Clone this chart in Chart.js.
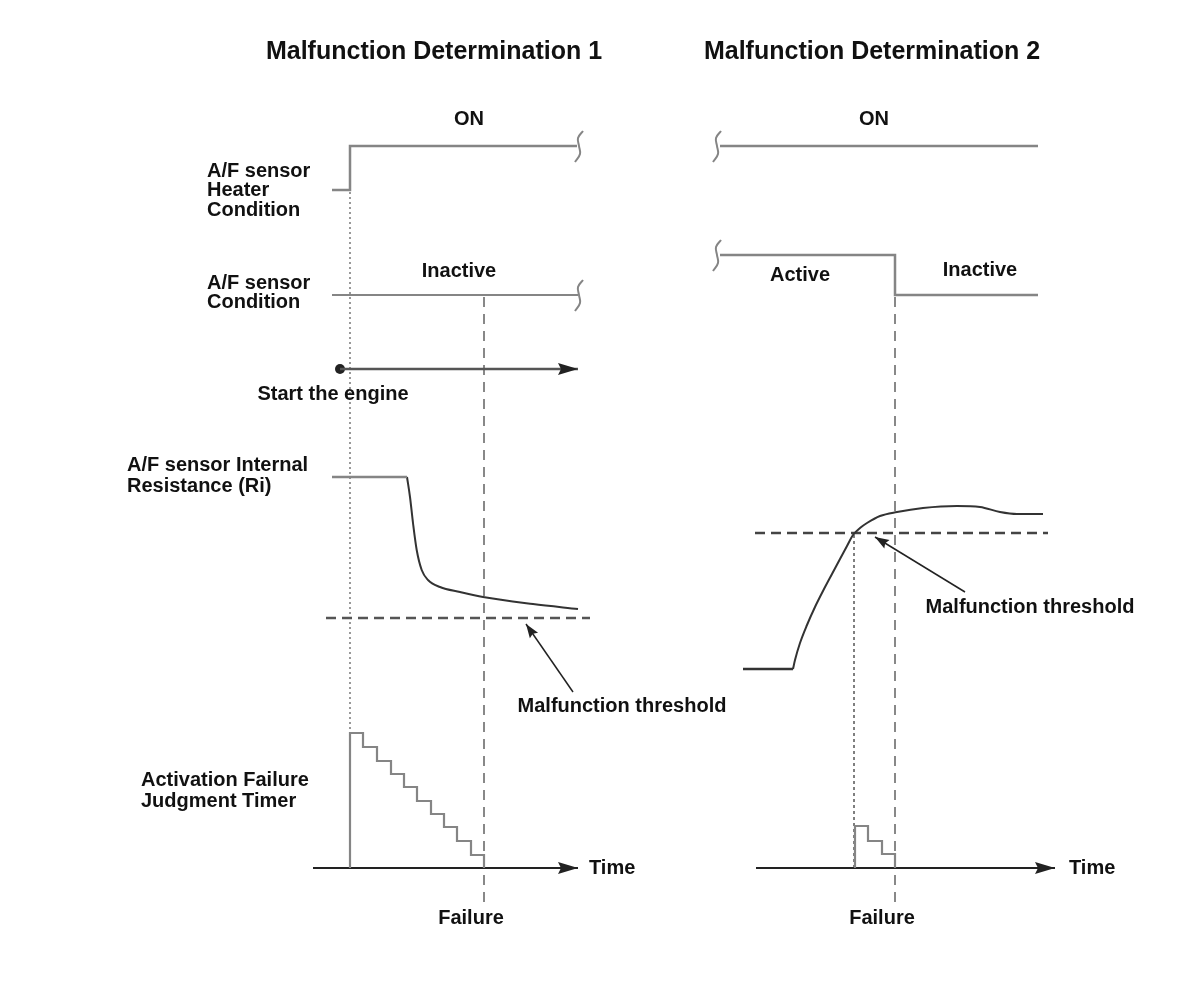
<!DOCTYPE html>
<html>
<head>
<meta charset="utf-8">
<script src="https://cdn.jsdelivr.net/npm/chart.js@4/dist/chart.umd.min.js"></script>
<style>
  html, body { margin: 0; padding: 0; background: #fff; }
  canvas { display: block; }
</style>
</head>
<body>
<canvas id="diagram" width="1200" height="1006"></canvas>
<script>
// diagram units (x = time, y = level, y grows downward)

// --- Malfunction Determination 1 ---
const heater1X = [332, 350, 350, 577];
const heater1Y = [190, 190, 146, 146];
const cond1X = [332, 578];
const cond1Y = [295, 295];
const engineX = [340, 578];
const engineY = [369, 369];
const riFlat1X = [332, 407];
const riFlat1Y = [477, 477];
const riDrop1X = [407, 410, 413, 416.7, 421.7, 428, 440, 460, 483, 533, 578];
const riDrop1Y = [477, 497, 523, 550, 570, 580, 587, 592, 597, 604, 609];
const thresh1X = [326, 590];
const thresh1Y = [618, 618];
const timer1X = [350, 350, 363, 363, 377, 377, 391, 391, 404, 404, 417, 417, 431, 431, 444, 444, 457, 457, 471, 471, 484, 484];
const timer1Y = [868, 733, 733, 747, 747, 761, 761, 774, 774, 787, 787, 801, 801, 814, 814, 827, 827, 841, 841, 855, 855, 868];
const time1X = [313, 578];
const time1Y = [868, 868];
const start1X = [350, 350];
const start1Y = [192, 733];
const fail1X = [484, 484];
const fail1Y = [297, 903];
const note1X = [573, 526];
const note1Y = [692, 624];

// --- Malfunction Determination 2 ---
const heater2X = [720, 1038];
const heater2Y = [146, 146];
const cond2X = [720, 895, 895, 1038];
const cond2Y = [255, 255, 295, 295];
const riFlat2X = [743, 793];
const riFlat2Y = [669, 669];
const riRise2X = [793, 795, 800, 807, 815, 823, 832, 840, 847, 853, 860, 867, 880, 897, 923, 957, 980, 1000, 1017, 1043];
const riRise2Y = [669, 660, 643, 625, 607, 591, 574, 559, 546, 535, 528, 523, 516, 512, 508, 506, 507, 512, 514, 514];
const thresh2X = [755, 1048];
const thresh2Y = [533, 533];
const timer2X = [855, 855, 868, 868, 882, 882, 895, 895];
const timer2Y = [868, 826, 826, 841, 841, 854, 854, 868];
const time2X = [756, 1055];
const time2Y = [868, 868];
const cross2X = [854, 854];
const cross2Y = [535, 868];
const fail2X = [895, 895];
const fail2Y = [297, 905];
const note2X = [965, 875];
const note2Y = [592, 537];

// break marks (squiggles)
const breakDX = [4, -1, 0, 1, -4];
const breakDY = [-15, -8, 0, 8, 16];

const pts = (xs, ys) => xs.map((x, i) => ({ x, y: ys[i] }));
const brk = (cx, cy) => pts(breakDX.map(d => cx + d), breakDY.map(d => cy + d));

const GRAY = '#858585';
const DARK = '#333333';
const AXIS = '#222222';

function line(data, color, width, extra) {
  return Object.assign({
    data, showLine: true, borderColor: color, borderWidth: width,
    pointRadius: 0, tension: 0, fill: false, clip: false
  }, extra || {});
}

const datasets = [
  line(pts(heater1X, heater1Y), GRAY, 2.5),
  line(pts(cond1X, cond1Y), GRAY, 2.2),
  line(brk(579, 146), GRAY, 2, { tension: 0.4 }),
  line(brk(579, 295), GRAY, 2, { tension: 0.4 }),
  line(pts(engineX, engineY), '#555', 2.5, { arrow: { len: 20, half: 6, color: '#222' } }),
  line(pts([engineX[0]], [engineY[0]]), '#222', 0, { showLine: false, pointRadius: 5, pointBackgroundColor: '#222', pointBorderWidth: 0 }),
  line(pts(riFlat1X, riFlat1Y), GRAY, 2.5),
  line(pts(riDrop1X, riDrop1Y), DARK, 2, { cubicInterpolationMode: 'monotone' }),
  line(pts(thresh1X, thresh1Y), '#555', 2.5, { borderDash: [10, 6] }),
  line(pts(timer1X, timer1Y), GRAY, 2.2),
  line(pts(time1X, time1Y), AXIS, 2, { arrow: { len: 20, half: 6, color: '#222' } }),
  line(pts(start1X, start1Y), '#999', 2, { borderDash: [2, 3] }),
  line(pts(fail1X, fail1Y), '#888', 2, { borderDash: [10, 7] }),
  line(pts(note1X, note1Y), '#222', 1.5, { arrow: { len: 14, half: 5, color: '#222' } }),

  line(pts(heater2X, heater2Y), GRAY, 2.5),
  line(pts(cond2X, cond2Y), GRAY, 2.5),
  line(brk(717, 146), GRAY, 2, { tension: 0.4 }),
  line(brk(717, 255), GRAY, 2, { tension: 0.4 }),
  line(pts(riFlat2X, riFlat2Y), DARK, 2.5),
  line(pts(riRise2X, riRise2Y), DARK, 2, { cubicInterpolationMode: 'monotone' }),
  line(pts(thresh2X, thresh2Y), '#444', 2.5, { borderDash: [10, 6] }),
  line(pts(timer2X, timer2Y), GRAY, 2.2),
  line(pts(time2X, time2Y), AXIS, 2, { arrow: { len: 20, half: 6, color: '#222' } }),
  line(pts(cross2X, cross2Y), '#555', 1.5, { borderDash: [3, 3] }),
  line(pts(fail2X, fail2Y), '#888', 2, { borderDash: [10, 7] }),
  line(pts(note2X, note2Y), '#222', 1.5, { arrow: { len: 14, half: 5, color: '#222' } })
];

// text labels: [text, x, y, align, size]
const labels = [
  ['Malfunction Determination 1', 434, 52, 'center', 25],
  ['Malfunction Determination 2', 872, 52, 'center', 25],
  ['ON', 469, 119, 'center', 20],
  ['ON', 874, 119, 'center', 20],
  ['A/F sensor', 207, 171, 'left', 20],
  ['Heater', 207, 190, 'left', 20],
  ['Condition', 207, 210, 'left', 20],
  ['A/F sensor', 207, 283, 'left', 20],
  ['Condition', 207, 302, 'left', 20],
  ['Inactive', 459, 271, 'center', 20],
  ['Active', 800, 275, 'center', 20],
  ['Inactive', 980, 270, 'center', 20],
  ['Start the engine', 333, 394, 'center', 20],
  ['A/F sensor Internal', 127, 465, 'left', 20],
  ['Resistance (Ri)', 127, 486, 'left', 20],
  ['Malfunction threshold', 622, 706, 'center', 20],
  ['Malfunction threshold', 1030, 607, 'center', 20],
  ['Activation Failure', 141, 780, 'left', 20],
  ['Judgment Timer', 141, 801, 'left', 20],
  ['Time', 589, 868, 'left', 20],
  ['Time', 1069, 868, 'left', 20],
  ['Failure', 471, 918, 'center', 20],
  ['Failure', 882, 918, 'center', 20]
];

const FONT = '"Liberation Sans", Arial, Helvetica, sans-serif';

const whiteBg = {
  id: 'whiteBg',
  beforeDraw(chart) {
    const c = chart.ctx;
    c.save();
    c.fillStyle = '#fff';
    c.fillRect(0, 0, chart.width, chart.height);
    c.restore();
  }
};

// arrowheads at the last point of datasets that ask for one
const arrowHeads = {
  id: 'arrowHeads',
  afterDatasetsDraw(chart) {
    const c = chart.ctx;
    chart.data.datasets.forEach((ds, i) => {
      if (!ds.arrow) return;
      const el = chart.getDatasetMeta(i).data;
      const a = el[el.length - 2], b = el[el.length - 1];
      const ang = Math.atan2(b.y - a.y, b.x - a.x);
      const { len, half, color } = ds.arrow;
      c.save();
      c.translate(b.x, b.y);
      c.rotate(ang);
      c.fillStyle = color;
      c.beginPath();
      c.moveTo(0, 0);
      c.lineTo(-len, -half);
      c.lineTo(-len * 0.85, 0);
      c.lineTo(-len, half);
      c.closePath();
      c.fill();
      c.restore();
    });
  }
};

const textLabels = {
  id: 'textLabels',
  afterDraw(chart) {
    const c = chart.ctx;
    const sx = chart.scales.x, sy = chart.scales.y;
    c.save();
    c.fillStyle = '#111';
    c.textBaseline = 'middle';
    labels.forEach(([t, x, y, align, size]) => {
      c.font = 'bold ' + size + 'px ' + FONT;
      c.textAlign = align;
      c.fillText(t, sx.getPixelForValue(x), sy.getPixelForValue(y));
    });
    c.restore();
  }
};

new Chart(document.getElementById('diagram'), {
  type: 'scatter',
  data: { datasets },
  options: {
    responsive: false,
    animation: false,
    devicePixelRatio: 1,
    layout: { padding: 0, autoPadding: false },
    plugins: { legend: { display: false }, tooltip: { enabled: false }, title: { display: false } },
    scales: {
      x: { type: 'linear', min: 0, max: 1200, display: false },
      y: { type: 'linear', min: 0, max: 1006, reverse: true, display: false }
    }
  },
  plugins: [whiteBg, arrowHeads, textLabels]
});
</script>
</body>
</html>
